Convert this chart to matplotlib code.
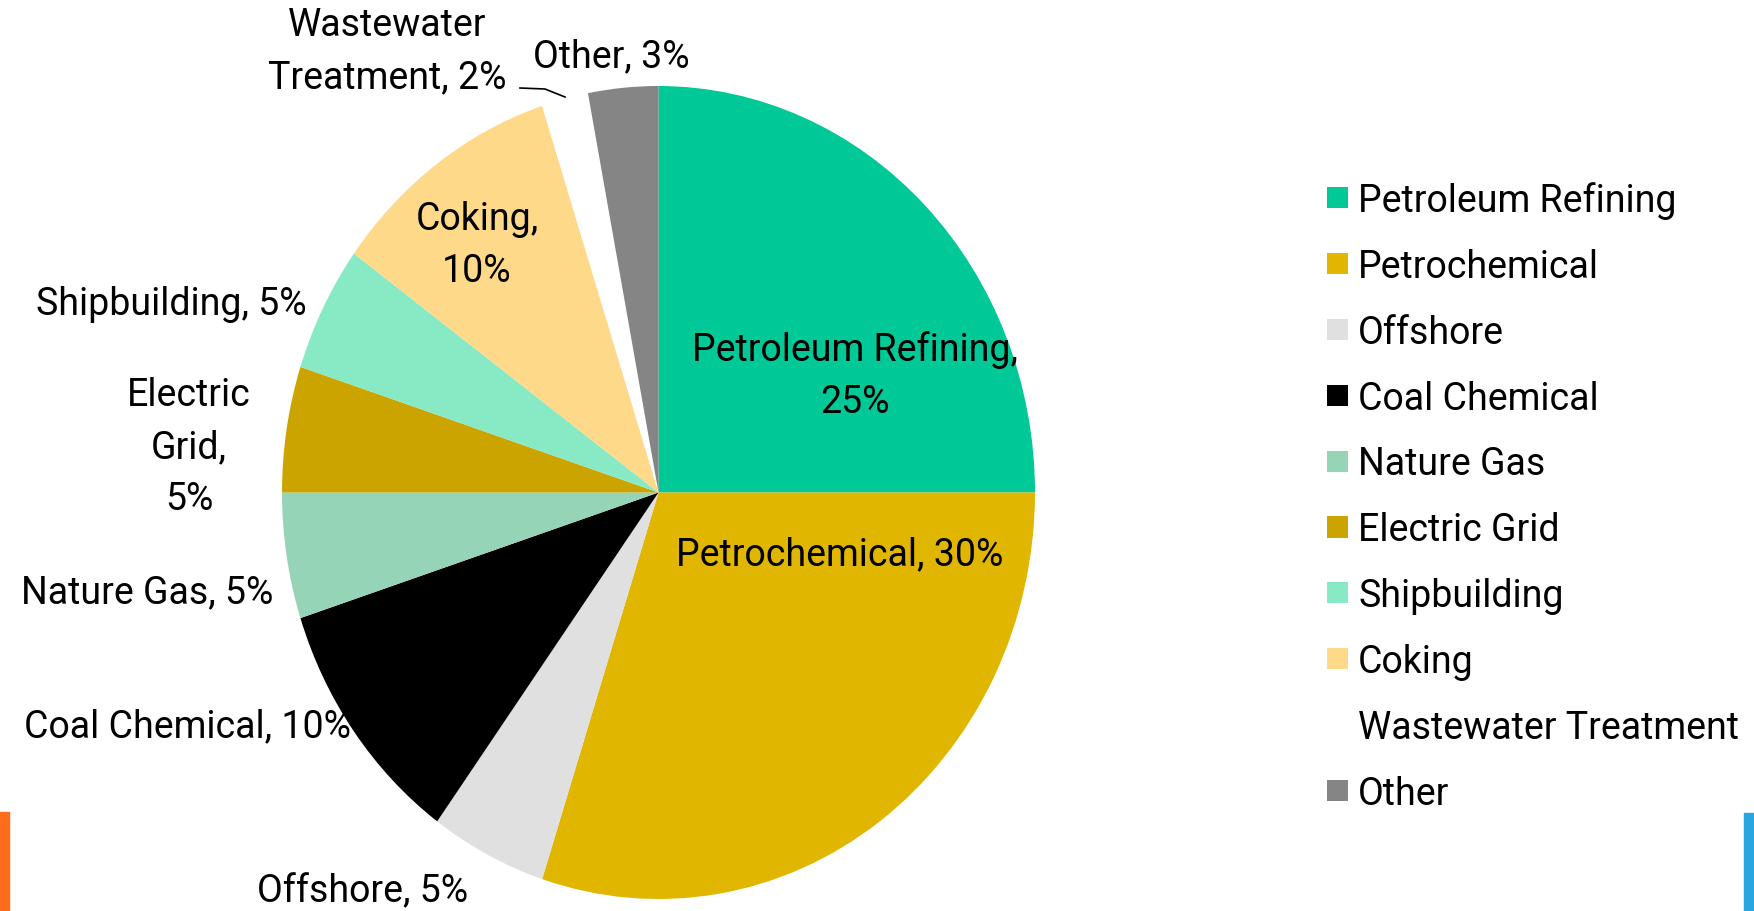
import matplotlib
matplotlib.use("Agg")
import matplotlib.pyplot as plt
from matplotlib.patches import Rectangle
from matplotlib.lines import Line2D

# --- DATA ---
sectors = ["Petroleum Refining", "Petrochemical", "Offshore", "Coal Chemical",
           "Nature Gas", "Electric Grid", "Shipbuilding", "Coking",
           "Wastewater Treatment", "Other"]
shares = [25, 30, 5, 10, 5, 5, 5, 10, 2, 3]
colors = ["#00C896", "#E0B600", "#E0E0E0", "#000000", "#96D4B8",
          "#CCA400", "#88EAC4", "#FFD98A", "#FFFFFF", "#858585"]

# label text as shown on the slide (line breaks per label)
label_texts = ["Petroleum Refining,\n25%", "Petrochemical, 30%", "Offshore, 5%",
               "Coal Chemical, 10%", "Nature Gas, 5%", "Electric\nGrid,\n5%",
               "Shipbuilding, 5%", "Coking,\n10%", "Wastewater\nTreatment, 2%",
               "Other, 3%"]

# --- LAYOUT (pixels, measured from top-left of a 1754x912 canvas) ---
W, H = 1754, 912
CX, CY = 658.5, 493.5      # pie centre
RX, RY = 376.5, 406.5      # pie is slightly stretched vertically
# baseline of the last line of each label
label_pos = [(855, 413), (840, 565), (363, 902), (188, 737), (147, 603),
             (189, 510), (171, 315), (477, 282), (387, 88), (611, 67)]
FS = 27

plt.rcParams['font.family'] = ['Roboto', 'DejaVu Sans']

fig = plt.figure(figsize=(W / 100, H / 100), dpi=100)
ax = fig.add_axes([0, 0, 1, 1])

wedges, _ = ax.pie(shares, colors=colors, startangle=90, counterclock=False,
                   radius=1, wedgeprops=dict(linewidth=0))
ax.set_aspect('auto')
ax.set_xlim(-CX / RX, (W - CX) / RX)
ax.set_ylim(-(H - CY) / RY, CY / RY)
ax.axis('off')

def fx(x):
    return x / W

def fy(y):
    return 1 - y / H

for txt, (x, y) in zip(label_texts, label_pos):
    fig.text(fx(x), fy(y), txt, ha='center', va='baseline', fontsize=FS,
             multialignment='center', linespacing=1.52, color='black')

# leader line for the small wastewater slice
fig.add_artist(Line2D([fx(520), fx(545), fx(565)], [fy(89), fy(90), fy(98)],
                      color='black', lw=1.2))

fig.legend(wedges, sectors, loc='upper left',
           bbox_to_anchor=(fx(1327), fy(182)), frameon=False, fontsize=FS,
           handlelength=0.56, handleheight=0.49, handletextpad=0.27,
           labelspacing=0.77, borderpad=0, borderaxespad=0)

# slide decoration bars at the bottom corners
fig.add_artist(Rectangle((0, 0), fx(9), fy(813), color="#FF6C1C",
                         transform=fig.transFigure))
fig.add_artist(Rectangle((fx(1744), 0), fx(10), fy(814), color="#2AA6DF",
                         transform=fig.transFigure))

fig.savefig("out.png", dpi=100)
